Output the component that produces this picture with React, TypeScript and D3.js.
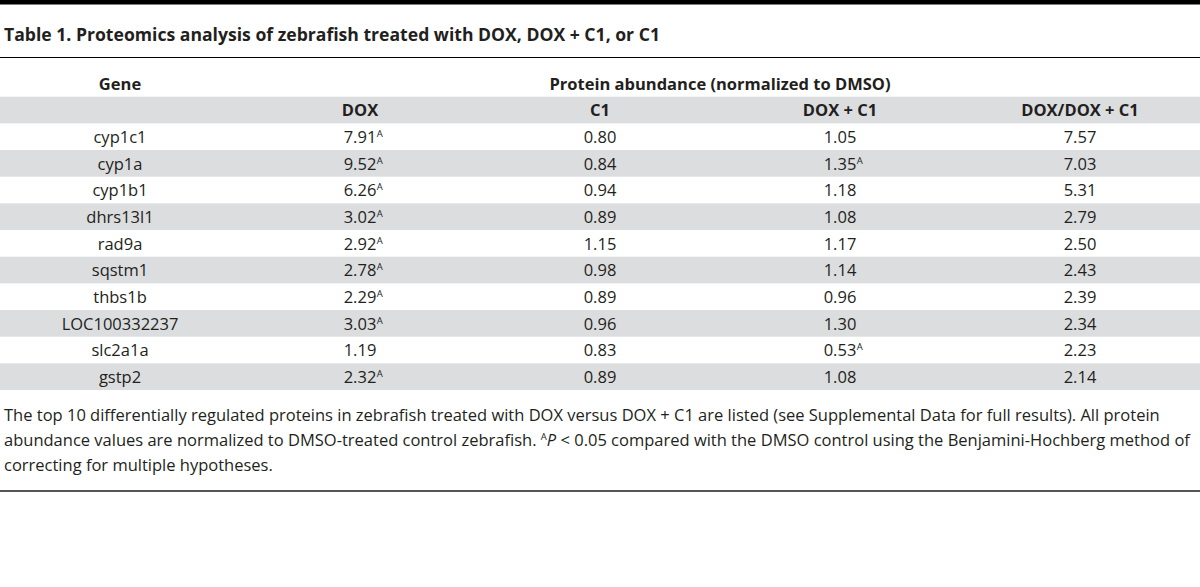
import React, { useEffect, useRef } from "react";
import * as d3 from "d3";

const titleText = "Table 1. Proteomics analysis of zebrafish treated with DOX, DOX + C1, or C1";
const groupHeader = "Protein abundance (normalized to DMSO)";
const columns = ["Gene", "DOX", "C1", "DOX + C1", "DOX/DOX + C1"];
const genes = ["cyp1c1", "cyp1a", "cyp1b1", "dhrs13l1", "rad9a", "sqstm1", "thbs1b", "LOC100332237", "slc2a1a", "gstp2"];
const dox = [7.91, 9.52, 6.26, 3.02, 2.92, 2.78, 2.29, 3.03, 1.19, 2.32];
const doxSig = [true, true, true, true, true, true, true, true, false, true];
const c1 = [0.8, 0.84, 0.94, 0.89, 1.15, 0.98, 0.89, 0.96, 0.83, 0.89];
const c1Sig = [false, false, false, false, false, false, false, false, false, false];
const doxC1 = [1.05, 1.35, 1.18, 1.08, 1.17, 1.14, 0.96, 1.3, 0.53, 1.08];
const doxC1Sig = [false, true, false, false, false, false, false, false, true, false];
const ratio = [7.57, 7.03, 5.31, 2.79, 2.5, 2.43, 2.39, 2.34, 2.23, 2.14];
const ratioSig = [false, false, false, false, false, false, false, false, false, false];

const W = 1200;
const H = 587;
const FONT = "'Open Sans', 'Noto Sans', sans-serif";
const TEXT = "#231f20";
const GRAY = "#dcdddf";
const FS = 16.5;

export default function App() {
  const ref = useRef<SVGSVGElement | null>(null);

  useEffect(() => {
    const svg = d3.select(ref.current);
    svg.selectAll("*").remove();
    const fmt = d3.format(".2f");

    const x = d3.scaleBand<string>().domain(columns).range([0, W]);
    const cx = (c: string) => (x(c) as number) + x.bandwidth() / 2;

    const rowKeys = ["__header", ...genes];
    const y = d3.scaleBand<string>().domain(rowKeys).range([96.7, 390]);

    // top bar
    svg.append("rect").attr("x", 0).attr("y", 0).attr("width", W).attr("height", 4.5).attr("fill", "#000");

    // title
    svg.append("text").attr("x", 4).attr("y", 40.5)
      .attr("font-family", FONT).attr("font-weight", 700).attr("font-size", 17.6)
      .attr("fill", TEXT).text(titleText);

    svg.append("line").attr("x1", 0).attr("x2", W).attr("y1", 57.5).attr("y2", 57.5)
      .attr("stroke", "#000").attr("stroke-width", 1.2);

    // group header row
    svg.append("text").attr("x", cx("Gene")).attr("y", 90).attr("text-anchor", "middle")
      .attr("font-family", FONT).attr("font-weight", 700).attr("font-size", FS).attr("fill", TEXT)
      .text(columns[0]);
    svg.append("text").attr("x", (cx("DOX") + cx("DOX/DOX + C1")) / 2).attr("y", 90).attr("text-anchor", "middle")
      .attr("font-family", FONT).attr("font-weight", 700).attr("font-size", FS).attr("fill", TEXT)
      .text(groupHeader);

    // row bands
    rowKeys.forEach((k, i) => {
      if (i % 2 === 0) {
        svg.append("rect").attr("x", 0).attr("width", W)
          .attr("y", y(k) as number).attr("height", y.bandwidth()).attr("fill", GRAY);
      }
    });

    // sub header
    columns.slice(1).forEach((c) => {
      svg.append("text").attr("x", cx(c)).attr("y", (y("__header") as number) + 19.5)
        .attr("text-anchor", "middle").attr("font-family", FONT).attr("font-weight", 700)
        .attr("font-size", FS).attr("fill", TEXT).text(c);
    });

    const valueCols: [string, number[], boolean[]][] = [
      ["DOX", dox, doxSig],
      ["C1", c1, c1Sig],
      ["DOX + C1", doxC1, doxC1Sig],
      ["DOX/DOX + C1", ratio, ratioSig],
    ];

    genes.forEach((g, i) => {
      const yy = (y(g) as number) + 19.5;
      svg.append("text").attr("x", cx("Gene")).attr("y", yy).attr("text-anchor", "middle")
        .attr("font-family", FONT).attr("font-size", FS).attr("fill", TEXT).text(g);
      valueCols.forEach(([c, vals, sig]) => {
        const t = svg.append("text").attr("x", cx(c)).attr("y", yy).attr("text-anchor", "middle")
          .attr("font-family", FONT).attr("font-size", FS).attr("fill", TEXT).text(fmt(vals[i]));
        if (sig[i]) {
          const w = (t.node() as SVGTextElement).getComputedTextLength();
          svg.append("text").attr("x", cx(c) + w / 2 + 0.5).attr("y", yy - 6)
            .attr("font-family", FONT).attr("font-size", 9.5).attr("fill", TEXT).text("A");
        }
      });
    });

    // footnote
    const fn = svg.append("g").attr("font-family", FONT).attr("font-size", FS).attr("fill", TEXT);
    fn.append("text").attr("x", 4).attr("y", 421)
      .text("The top 10 differentially regulated proteins in zebrafish treated with DOX versus DOX + C1 are listed (see Supplemental Data for full results). All protein");
    const l2 = fn.append("text").attr("x", 4).attr("y", 446);
    l2.append("tspan").text("abundance values are normalized to DMSO-treated control zebrafish. ");
    l2.append("tspan").attr("font-size", 9.5).attr("dy", -6).text("A");
    l2.append("tspan").attr("font-style", "italic").attr("dy", 6).text("P");
    l2.append("tspan").text(" < 0.05 compared with the DMSO control using the Benjamini-Hochberg method of");
    fn.append("text").attr("x", 4).attr("y", 471).text("correcting for multiple hypotheses.");

    svg.append("line").attr("x1", 0).attr("x2", W).attr("y1", 491).attr("y2", 491)
      .attr("stroke", "#555").attr("stroke-width", 2);
  }, []);

  return (
    <svg ref={ref} width={W} height={H}
      style={{ position: "absolute", left: 0, top: 0, background: "#fff" }} />
  );
}
